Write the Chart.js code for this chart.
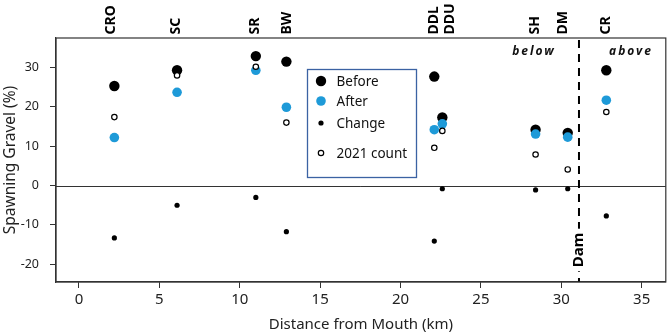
<!DOCTYPE html>
<html>
<head>
<meta charset="utf-8">
<script src="https://cdn.jsdelivr.net/npm/chart.js@4/dist/chart.umd.min.js"></script>
<style>
  html, body { margin: 0; padding: 0; background: #fff; }
  #wrap { width: 671px; height: 334px; }
</style>
</head>
<body>
<div id="wrap"><canvas id="chart"></canvas></div>
<script>
// sites along the river (km from mouth)
const sites = ["CRO", "SC", "SR", "BW", "DDL", "DDU", "SH", "DM", "CR"];
const siteKm = [2.2, 6.1, 11.0, 12.9, 22.1, 22.6, 28.4, 30.4, 32.8];
const siteLabelKm = [2.0, 6.05, 10.97, 12.96, 22.07, 23.1, 28.37, 30.13, 32.8];

// spawning gravel (%)
const before = [25.3, 29.3, 32.9, 31.5, 27.7, 17.3, 14.2, 13.4, 29.3];
const after = [12.2, 23.7, 29.3, 19.9, 14.2, 15.7, 13.1, 12.3, 21.7];
const change = [-13.3, -5.0, -3.0, -11.7, -14.1, -0.8, -1.1, -0.8, -7.7];
const count2021 = [17.4, 28.0, 30.2, 16.0, 9.6, 13.9, 7.9, 4.1, 18.7];

const damKm = 31.1;
const xTicks = [0, 5, 10, 15, 20, 25, 30, 35];
const yTicks = [-20, -10, 0, 10, 20, 30];

const FONT = "'Noto Sans', 'DejaVu Sans', sans-serif";
const BLUE = "#1e9ad8";

function pts(vals) {
    return vals.map((v, i) => ({ x: siteKm[i], y: v }));
}

const datasets = [
    { label: "Before", data: pts(before), pointRadius: 5.2, backgroundColor: "#000", borderColor: "#000", borderWidth: 0, order: 4 },
    { label: "After", data: pts(after), pointRadius: 4.8, backgroundColor: BLUE, borderColor: BLUE, borderWidth: 0, order: 3 },
    { label: "Change", data: pts(change), pointRadius: 2.6, backgroundColor: "#000", borderColor: "#000", borderWidth: 0, order: 2 },
    { label: "2021 count", data: pts(count2021), pointRadius: 2.7, backgroundColor: "#fff", borderColor: "#000", borderWidth: 1.2, order: 1 }
];

// extras: box, zero line, dam line, site labels, legend
const extras = {
    id: "extras",
    beforeDatasetsDraw(chart) {
        const { ctx, chartArea: a, scales: { x, y } } = chart;
        ctx.save();
        // zero line
        const y0 = Math.round(y.getPixelForValue(0)) + 0.5;
        ctx.strokeStyle = "#333";
        ctx.lineWidth = 1;
        ctx.beginPath();
        ctx.moveTo(a.left, y0);
        ctx.lineTo(a.right, y0);
        ctx.stroke();
        // dam line
        const xd = x.getPixelForValue(damKm);
        ctx.strokeStyle = "#000";
        ctx.lineWidth = 2;
        ctx.setLineDash([8, 6]);
        ctx.beginPath();
        ctx.moveTo(xd, a.top + 2);
        ctx.lineTo(xd, a.bottom);
        ctx.stroke();
        ctx.setLineDash([]);
        // "Dam" label sitting on the line
        ctx.translate(xd, 250);
        ctx.rotate(-Math.PI / 2);
        ctx.font = "bold 15px " + FONT;
        const w = ctx.measureText("Dam").width;
        ctx.fillStyle = "#fff";
        ctx.fillRect(-w / 2 - 4, -8, w + 8, 16);
        ctx.fillStyle = "#000";
        ctx.textAlign = "center";
        ctx.textBaseline = "middle";
        ctx.fillText("Dam", 0, 0);
        ctx.restore();
    },
    afterDraw(chart) {
        const { ctx, chartArea: a, scales: { x } } = chart;
        ctx.save();
        // frame
        ctx.strokeStyle = "#333";
        ctx.lineWidth = 1.2;
        ctx.strokeRect(a.left, a.top, a.right - a.left, a.bottom - a.top);

        // site labels above the plot
        ctx.font = "bold 14px " + FONT;
        ctx.fillStyle = "#000";
        ctx.textAlign = "left";
        ctx.textBaseline = "middle";
        sites.forEach((s, i) => {
            ctx.save();
            ctx.translate(x.getPixelForValue(siteLabelKm[i]), 34.5);
            ctx.rotate(-Math.PI / 2);
            ctx.fillText(s, 0, 0);
            ctx.restore();
        });

        // below / above
        ctx.font = "italic bold 12px " + FONT;
        ctx.letterSpacing = "2px";
        ctx.textAlign = "center";
        ctx.fillStyle = "#111";
        ctx.fillText("below", 534, 52);
        ctx.fillText("above", 631, 52);
        ctx.letterSpacing = "0px";

        // legend box
        const bx = 307.5, by = 69.5, bw = 109, bh = 108;
        ctx.fillStyle = "#fff";
        ctx.fillRect(bx, by, bw, bh);
        ctx.strokeStyle = "#3b62a3";
        ctx.lineWidth = 1.3;
        ctx.strokeRect(bx, by, bw, bh);
        const rows = [81, 101, 123, 153];
        ctx.font = "13.5px " + FONT;
        ctx.textAlign = "left";
        chart.data.datasets.forEach((ds, i) => {
            ctx.beginPath();
            ctx.arc(bx + 13.5, rows[i], ds.pointRadius, 0, Math.PI * 2);
            ctx.fillStyle = ds.backgroundColor;
            ctx.fill();
            if (ds.borderWidth) {
                ctx.lineWidth = ds.borderWidth;
                ctx.strokeStyle = ds.borderColor;
                ctx.stroke();
            }
            ctx.fillStyle = "#111";
            ctx.fillText(ds.label, bx + 29, rows[i] + 1);
        });
        ctx.restore();
    }
};

new Chart(document.getElementById("chart"), {
    type: "scatter",
    data: { datasets: datasets },
    options: {
        responsive: true,
        maintainAspectRatio: false,
        animation: false,
        layout: { padding: { top: 38, right: 3, left: 0, bottom: 0 } },
        plugins: { legend: { display: false }, tooltip: { enabled: false } },
        scales: {
            x: {
                type: "linear",
                min: -1.43,
                max: 36.5,
                afterBuildTicks: scale => { scale.ticks = xTicks.map(v => ({ value: v })); },
                afterFit: scale => { scale.height = 52; },
                grid: { drawOnChartArea: false, tickLength: 6, color: "#333" },
                border: { color: "#333", width: 1.2 },
                ticks: { font: { family: FONT, size: 15 }, color: "#222", padding: 3, maxRotation: 0 },
                title: { display: true, text: "Distance from Mouth (km)", font: { family: FONT, size: 15 }, color: "#222", padding: { top: 0, bottom: 0 } }
            },
            y: {
                min: -24.5,
                max: 37.5,
                afterBuildTicks: scale => { scale.ticks = yTicks.map(v => ({ value: v })); },
                afterFit: scale => { scale.width = 56; },
                grid: { drawOnChartArea: false, tickLength: 6, color: "#333" },
                border: { color: "#333", width: 1.2 },
                ticks: { font: { family: FONT, size: 12.5 }, color: "#222", padding: 11 },
                title: { display: true, text: "Spawning Gravel (%)", font: { family: FONT, size: 15.5 }, color: "#222", padding: { top: 1, bottom: 0 } }
            }
        }
    },
    plugins: [extras]
});
</script>
</body>
</html>
